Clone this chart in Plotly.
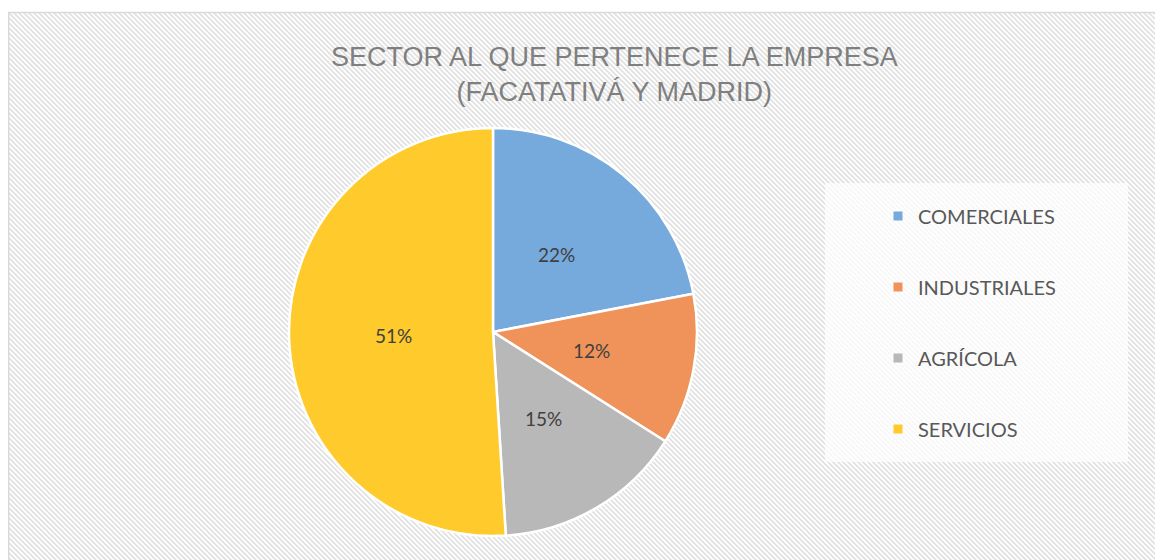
import base64
import math
import plotly.graph_objects as go

categories = ["COMERCIALES", "INDUSTRIALES", "AGRÍCOLA", "SERVICIOS"]
values = [22, 12, 15, 51]
colors = ["#76aadc", "#f0935a", "#b8b8b8", "#ffca2c"]
title_lines = ["SECTOR AL QUE PERTENECE LA EMPRESA", "(FACATATIVÁ Y MADRID)"]

W, H = 1163, 560
# pie geometry in figure pixels (page has an 8px body margin)
CX, CY, R = 485, 324, 204

svg = (
    "<svg xmlns='http://www.w3.org/2000/svg' width='1163' height='556'>"
    "<defs><pattern id='p' width='5' height='5' patternUnits='userSpaceOnUse'>"
    "<rect width='5' height='5' fill='white'/>"
    "<path d='M-1,-1 L6,6 M-1,4 L1,6 M4,-1 L6,1' stroke='#e1e1e1' stroke-width='1.7'/>"
    "</pattern></defs><rect width='1163' height='556' fill='url(#p)'/></svg>"
)
src = "data:image/svg+xml;base64," + base64.b64encode(svg.encode()).decode()

fig = go.Figure()
fig.add_trace(go.Pie(
    labels=categories,
    values=values,
    sort=False,
    direction="clockwise",
    rotation=0,
    marker=dict(colors=colors, line=dict(color="white", width=2.5)),
    textinfo="none",
    domain=dict(x=[(CX - R) / W, (CX + R) / W], y=[(H - CY - R) / H, (H - CY + R) / H]),
    showlegend=False,
    hoverinfo="label+percent",
))

# legend entries (one per category, grouped so spacing can be set)
for cat, col in zip(categories, colors):
    fig.add_trace(go.Scatter(
        x=[None], y=[None], mode="markers", name=cat, legendgroup=cat,
        marker=dict(symbol="square", size=9, color=col),
        showlegend=True, hoverinfo="skip",
    ))

# percentage labels placed along each slice bisector
total = sum(values)
cum = 0
for v in values:
    mid = (cum + v / 2) / total * 2 * math.pi
    cum += v
    px = CX + 0.49 * R * math.sin(mid)
    py = CY - 0.49 * R * math.cos(mid)
    fig.add_annotation(
        text=f"{round(v / total * 100)}%", xref="paper", yref="paper",
        x=px / W, y=(H - py) / H, xanchor="center", yanchor="middle",
        showarrow=False, font=dict(family="Lato", size=19, color="#404040"),
    )

fig.add_layout_image(dict(
    source=src, xref="paper", yref="paper",
    x=0, y=(H - 4) / H, sizex=1, sizey=556 / H,
    xanchor="left", yanchor="top", sizing="stretch", layer="below",
))

fig.add_shape(type="rect", xref="paper", yref="paper",
              x0=0.6 / W, x1=1.02, y0=-0.02, y1=(H - 4.5) / H,
              line=dict(color="#d9d9d9", width=1.5), layer="below")
# legend backing box
fig.add_shape(type="rect", xref="paper", yref="paper",
              x0=817 / W, x1=1120 / W, y0=(H - 454) / H, y1=(H - 175) / H,
              fillcolor="rgba(255,255,255,0.72)", line=dict(width=0), layer="below")

fig.add_annotation(
    text="<br>".join(title_lines), xref="paper", yref="paper",
    x=606 / W, y=(H - 66) / H, xanchor="center", yanchor="middle",
    showarrow=False, font=dict(family="Liberation Sans", size=27, color="#7f7f7f"),
)

fig.update_layout(
    width=W, height=H,
    margin=dict(l=0, r=0, t=0, b=0),
    paper_bgcolor="white",
    plot_bgcolor="rgba(0,0,0,0)",
    xaxis=dict(visible=False),
    yaxis=dict(visible=False),
    showlegend=True,
    legend=dict(
        x=870 / W, y=(H - 188.5) / H, xanchor="left", yanchor="top",
        bgcolor="rgba(0,0,0,0)", font=dict(family="Lato", size=20, color="#595959"),
        tracegroupgap=42, itemclick=False, itemdoubleclick=False,
    ),
)

fig.write_html("out.html")
